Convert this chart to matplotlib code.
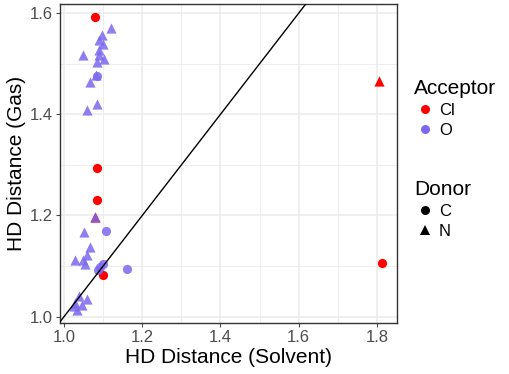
import matplotlib
matplotlib.use("Agg")
from matplotlib import pyplot as plt
from matplotlib.lines import Line2D
import numpy as np

plt.rcParams['font.family'] = ['Liberation Sans', 'DejaVu Sans']

# HD distances, solvent (x) vs gas (y)
cl_c_x = [1.080, 1.083, 1.085, 1.100, 1.812]
cl_c_y = [1.593, 1.294, 1.231, 1.083, 1.106]
cl_n_x = [1.079, 1.805]
cl_n_y = [1.196, 1.465]

o_c_x = [1.085, 1.106, 1.092, 1.099, 1.088, 1.160]
o_c_y = [1.476, 1.170, 1.099, 1.103, 1.093, 1.095]
o_n_x = [1.120, 1.098, 1.089, 1.099, 1.048, 1.089, 1.103, 1.085, 1.090, 1.082, 1.065,
         1.083, 1.058, 1.079, 1.051, 1.066, 1.058, 1.028, 1.049, 1.054, 1.037, 1.058,
         1.028, 1.045, 1.032, 1.025]
o_n_y = [1.570, 1.557, 1.547, 1.540, 1.517, 1.517, 1.510, 1.504, 1.527, 1.478, 1.463,
         1.421, 1.409, 1.196, 1.167, 1.138, 1.121, 1.111, 1.111, 1.104, 1.040, 1.035,
         1.027, 1.023, 1.013, 1.020]

RED = "#FF0000"
BLUE = "#7B68EE"

fig = plt.figure(figsize=(5.1, 3.74), dpi=100)
ax = fig.add_axes([0.118, 0.136, 0.660, 0.853])

ax.scatter(cl_c_x, cl_c_y, s=44, marker="o", color=RED, linewidths=0, zorder=3)
ax.scatter(cl_n_x, cl_n_y, s=54, marker="^", color=RED, linewidths=0, zorder=3)
ax.scatter(o_c_x, o_c_y, s=44, marker="o", color=BLUE, alpha=0.85, linewidths=0, zorder=4)
ax.scatter(o_n_x, o_n_y, s=54, marker="^", color=BLUE, alpha=0.85, linewidths=0, zorder=4)

ax.set_xlim(0.99, 1.851)
ax.set_ylim(0.987, 1.618)
ax.axline((1.0, 1.0), slope=1, color="black", lw=1.0, zorder=5)

ax.set_xticks([1.0, 1.2, 1.4, 1.6, 1.8])
ax.set_yticks([1.0, 1.2, 1.4, 1.6])
ax.set_xticks([1.1, 1.3, 1.5, 1.7], minor=True)
ax.set_yticks([1.1, 1.3, 1.5], minor=True)
ax.grid(which="major", color="#EBEBEB", lw=1.1, zorder=0)
ax.grid(which="minor", color="#EBEBEB", lw=0.6, zorder=0)
ax.set_axisbelow(True)
ax.tick_params(which="major", labelsize=12, colors="#4D4D4D", length=3, width=0.8,
               labelcolor="#4D4D4D", pad=2)
ax.tick_params(which="minor", length=0)
for s in ax.spines.values():
    s.set_color("#333333")
    s.set_linewidth(1.0)

ax.set_xlabel("HD Distance (Solvent)", fontsize=15, labelpad=2)
ax.set_ylabel("HD Distance (Gas)", fontsize=15, labelpad=3)

acc = [Line2D([], [], marker="o", ls="", color=RED, markersize=6.5, markeredgewidth=0),
       Line2D([], [], marker="o", ls="", color=BLUE, markersize=6.5, markeredgewidth=0)]
don = [Line2D([], [], marker="o", ls="", color="black", markersize=6.5, markeredgewidth=0),
       Line2D([], [], marker="^", ls="", color="black", markersize=7.5, markeredgewidth=0)]

leg_kw = dict(loc="upper left", frameon=False, fontsize=12, title_fontsize=15,
              handletextpad=0.2, labelspacing=0.3, handlelength=1.3,
              alignment="left", borderaxespad=0, borderpad=0)
leg1 = fig.legend(acc, ["Cl", "O"], title="Acceptor",
                  bbox_to_anchor=(0.812, 0.79), **leg_kw)
leg2 = fig.legend(don, ["C", "N"], title="Donor",
                  bbox_to_anchor=(0.812, 0.52), **leg_kw)

plt.savefig("out.png", dpi=100)
